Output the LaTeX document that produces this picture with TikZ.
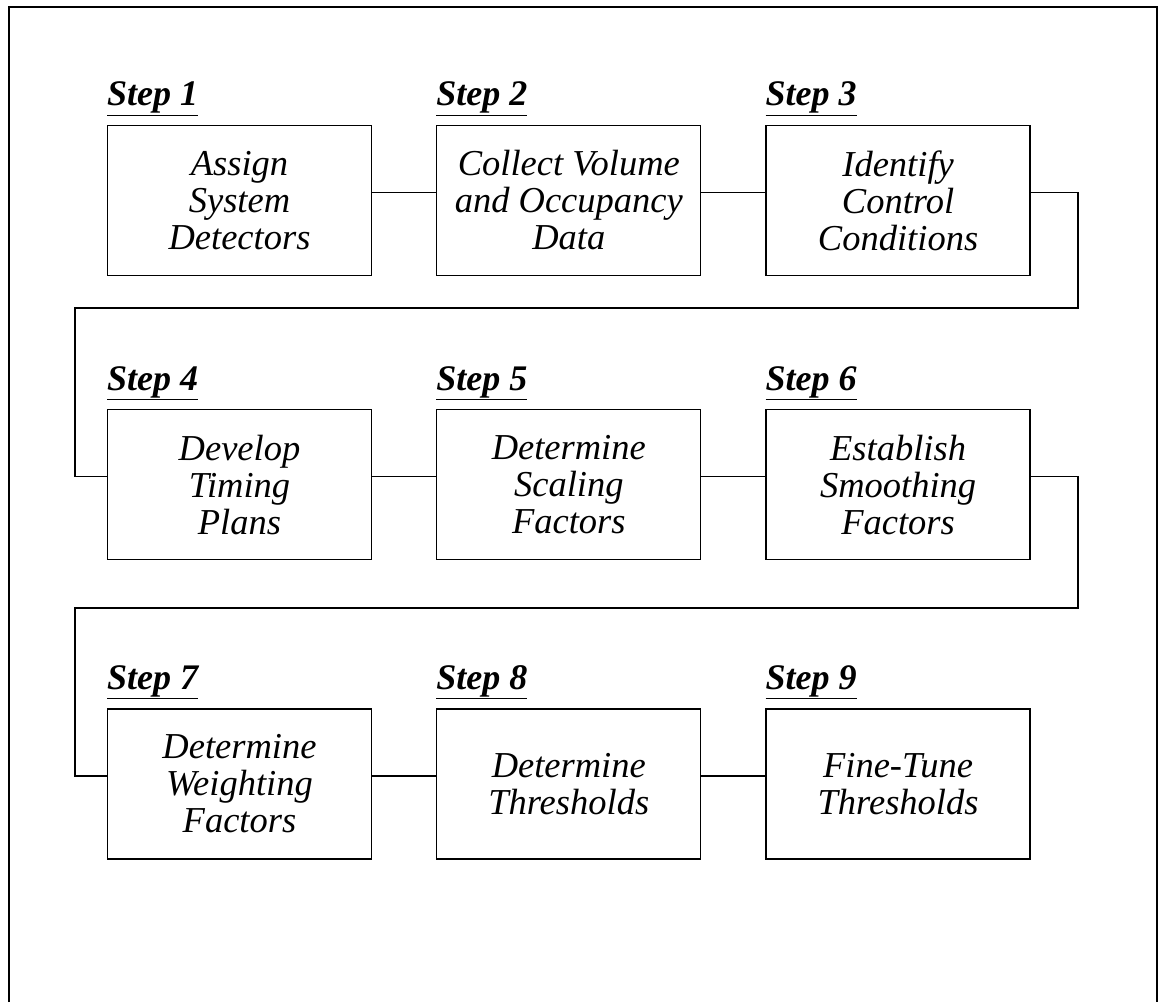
\documentclass[tikz,border=0pt]{standalone}
\usepackage{fontspec}
\setmainfont{Liberation Serif}
\usetikzlibrary{positioning,calc}
\tikzset{
	stepbox/.style={
		rectangle,
		draw,
		line width=1.3pt,
		minimum width=264pt,
		minimum height=150pt,
		inner sep=2pt,
		align=center,
		font=\fontsize{36.5}{37}\selectfont\itshape,
	},
	steplabel/.style={
		inner sep=0pt,
		font=\fontsize{36}{37}\selectfont\bfseries\itshape,
	},
	link/.style={
		line width=1.3pt,
	},
	pageframe/.style={
		line width=2.5pt,
	},
}
\begin{document}
\begin{tikzpicture}[x=1pt,y=1pt,node distance=133pt and 64pt]

\useasboundingbox (0,0) rectangle (1162,1002);
\draw[pageframe] (9,0) -- (9,995) -- (1157,995) -- (1157,0);

\node[stepbox] (i) at (239.5,801.5) {Assign\\System\\Detectors};
\node[stepbox] (ii) [right=of i] {Collect Volume\\and Occupancy\\Data};
\node[stepbox] (iii) [right=of ii] {Identify\\Control\\Conditions};
\node[stepbox] (iv) [below=of i] {Develop\\Timing\\Plans};
\node[stepbox] (v) [right=of iv] {Determine\\Scaling\\Factors};
\node[stepbox] (vi) [right=of v] {Establish\\Smoothing\\Factors};
\node[stepbox] (vii) [below=148pt of iv] {Determine\\Weighting\\Factors};
\node[stepbox] (viii) [right=of vii] {Determine\\Thresholds};
\node[stepbox] (ix) [right=of viii] {Fine-Tune\\Thresholds};

\node[steplabel,above right=9pt and 0pt of i.north west] (si) {\underline{Step 1}};
\node[steplabel,above right=9pt and 0pt of ii.north west] (sii) {\underline{Step 2}};
\node[steplabel,above right=9pt and 0pt of iii.north west] (siii) {\underline{Step 3}};
\node[steplabel,above right=9pt and 0pt of iv.north west] (siv) {\underline{Step 4}};
\node[steplabel,above right=9pt and 0pt of v.north west] (sv) {\underline{Step 5}};
\node[steplabel,above right=9pt and 0pt of vi.north west] (svi) {\underline{Step 6}};
\node[steplabel,above right=9pt and 0pt of vii.north west] (svii) {\underline{Step 7}};
\node[steplabel,above right=9pt and 0pt of viii.north west] (sviii) {\underline{Step 8}};
\node[steplabel,above right=9pt and 0pt of ix.north west] (six) {\underline{Step 9}};

\coordinate (bendi) at (1078,694);
\coordinate (bendii) at (1078,394);

\draw[link] ($(i.east)+(0,8)$) -- ($(ii.west)+(0,8)$);
\draw[link] ($(ii.east)+(0,8)$) -- ($(iii.west)+(0,8)$);

\draw[link]
  ($(iii.east)+(0,8)$)
  -|
  (bendi)
  -|
  ($(iv.west)+(-32,8)$)
  --
  ($(iv.west)+(0,8)$);

\draw[link] ($(iv.east)+(0,8)$) -- ($(v.west)+(0,8)$);
\draw[link] ($(v.east)+(0,8)$) -- ($(vi.west)+(0,8)$);

\draw[link]
  ($(vi.east)+(0,8)$)
  -|
  (bendii)
  -|
  ($(vii.west)+(-32,8)$)
  --
  ($(vii.west)+(0,8)$);

\draw[link] ($(vii.east)+(0,8)$) -- ($(viii.west)+(0,8)$);
\draw[link] ($(viii.east)+(0,8)$) -- ($(ix.west)+(0,8)$);

\end{tikzpicture}
\end{document}
